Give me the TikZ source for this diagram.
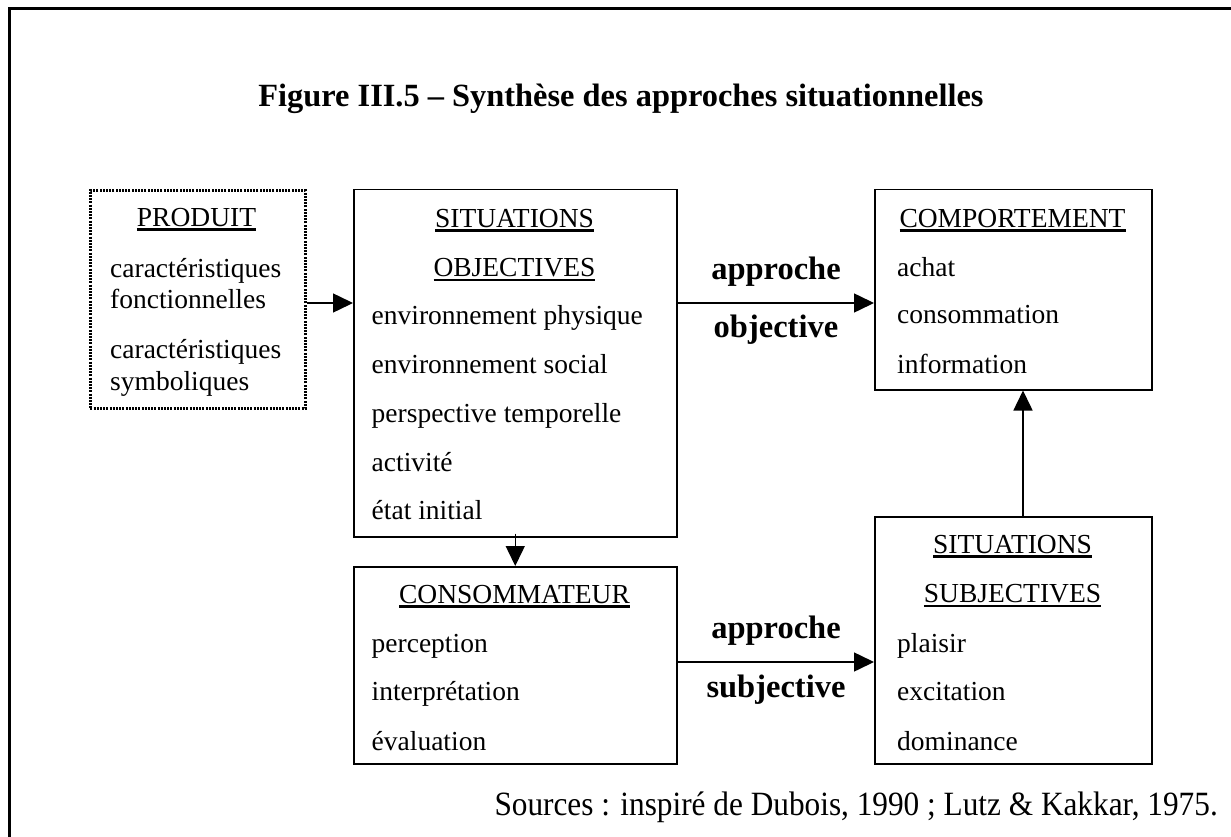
\documentclass[tikz,border=0pt]{standalone}
\usepackage{fontspec}
\setmainfont{Liberation Serif}
\newfontfamily\srcfont[FakeStretch=0.92]{Liberation Serif}
\usetikzlibrary{arrows.meta}
\newcommand{\ulin}[1]{\vtop{\hbox{#1}\kern2.2pt\hrule height 2.4pt}}
\tikzset{
  box/.style={draw, line width=1.5pt, inner sep=0pt, anchor=north west},
  dotbox/.style={box, line width=2.6pt, dash pattern=on 2pt off 1.2pt},
  item/.style={inner sep=0pt, font=\fontsize{27.5pt}{30pt}\selectfont, anchor=base west},
  head/.style={item, anchor=base},
  lab/.style={inner sep=0pt, font=\bfseries\fontsize{32.5pt}{36pt}\selectfont, anchor=base},
  arr/.style={line width=1.5pt, -{Triangle[length=20pt,width=19pt]}},
}
\begin{document}
\begin{tikzpicture}[x=1pt,y=-1pt]
\useasboundingbox (0,0) rectangle (1231,837);
% outer frame (continues beyond the page)
\draw[line width=3pt] (9.7,850) -- (9.7,8.7) -- (1245,8.7);

% title
\node[inner sep=0pt, anchor=base, font=\bfseries\fontsize{32.4pt}{36pt}\selectfont] (title) at (621,107) {Figure III.5 – Synthèse des approches situationnelles};

% boxes
\node[dotbox, minimum width=215pt, minimum height=218pt] (prod) at (89,189) {};
\node[box, minimum width=323pt, minimum height=347pt] (so) at (353,189) {};
\node[box, minimum width=277pt, minimum height=200pt] (comp) at (874,189) {};
\node[box, minimum width=323pt, minimum height=197pt] (cons) at (353,566) {};
\node[box, minimum width=277pt, minimum height=247pt] (ss) at (874,516) {};

% PRODUIT
\node[head] (prodT) at (196.5,226) {\ulin{PRODUIT}};
\node[item] (p1) at (110,277) {caractéristiques};
\node[item] (p2) at (110,308) {fonctionnelles};
\node[item] (p3) at (110,358) {caractéristiques};
\node[item] (p4) at (110,390) {symboliques};

% SITUATIONS OBJECTIVES
\node[head] (soT1) at (514.5,227) {\ulin{SITUATIONS}};
\node[head] (soT2) at (514.5,276) {\ulin{OBJECTIVES}};
\node[item] (s1) at (371.5,324) {environnement physique};
\node[item] (s2) at (371.5,373) {environnement social};
\node[item] (s3) at (371.5,422) {perspective temporelle};
\node[item] (s4) at (371.5,471) {activité};
\node[item] (s5) at (371.5,519) {état initial};

% COMPORTEMENT
\node[head] (compT) at (1012.5,227) {\ulin{COMPORTEMENT}};
\node[item] (c1) at (897,276) {achat};
\node[item] (c2) at (897,323) {consommation};
\node[item] (c3) at (897,373) {information};

% CONSOMMATEUR
\node[head] (consT) at (514.5,603) {\ulin{CONSOMMATEUR}};
\node[item] (k1) at (371.5,652) {perception};
\node[item] (k2) at (371.5,700) {interprétation};
\node[item] (k3) at (371.5,750) {évaluation};

% SITUATIONS SUBJECTIVES
\node[head] (ssT1) at (1012.5,553) {\ulin{SITUATIONS}};
\node[head] (ssT2) at (1012.5,602) {\ulin{SUBJECTIVES}};
\node[item] (e1) at (897,652) {plaisir};
\node[item] (e2) at (897,700) {excitation};
\node[item] (e3) at (897,750) {dominance};

% arrow labels
\node[lab] (l1) at (776,279) {approche};
\node[lab] (l2) at (776,337) {objective};
\node[lab] (l3) at (776,638) {approche};
\node[lab] (l4) at (776,697) {subjective};

% sources
\node[inner sep=0pt, anchor=base east, font=\srcfont\fontsize{34pt}{38pt}\selectfont] (src) at (1218,815) {Sources : inspiré de Dubois, 1990 ; Lutz \& Kakkar, 1975.};

% connectors
\coordinate (ya) at (0,303);
\coordinate (yb) at (0,662);
\coordinate (xa) at (1023,0);
\draw[arr] (prod.east |- ya) -- (so.west |- ya);
\draw[arr] (so.east |- ya) -- (comp.west |- ya);
\draw[arr] ([yshift=4pt]so.south) -- (cons.north);
\draw[arr] (cons.east |- yb) -- (ss.west |- yb);
\draw[arr] (ss.north -| xa) -- (comp.south -| xa);
\end{tikzpicture}
\end{document}
